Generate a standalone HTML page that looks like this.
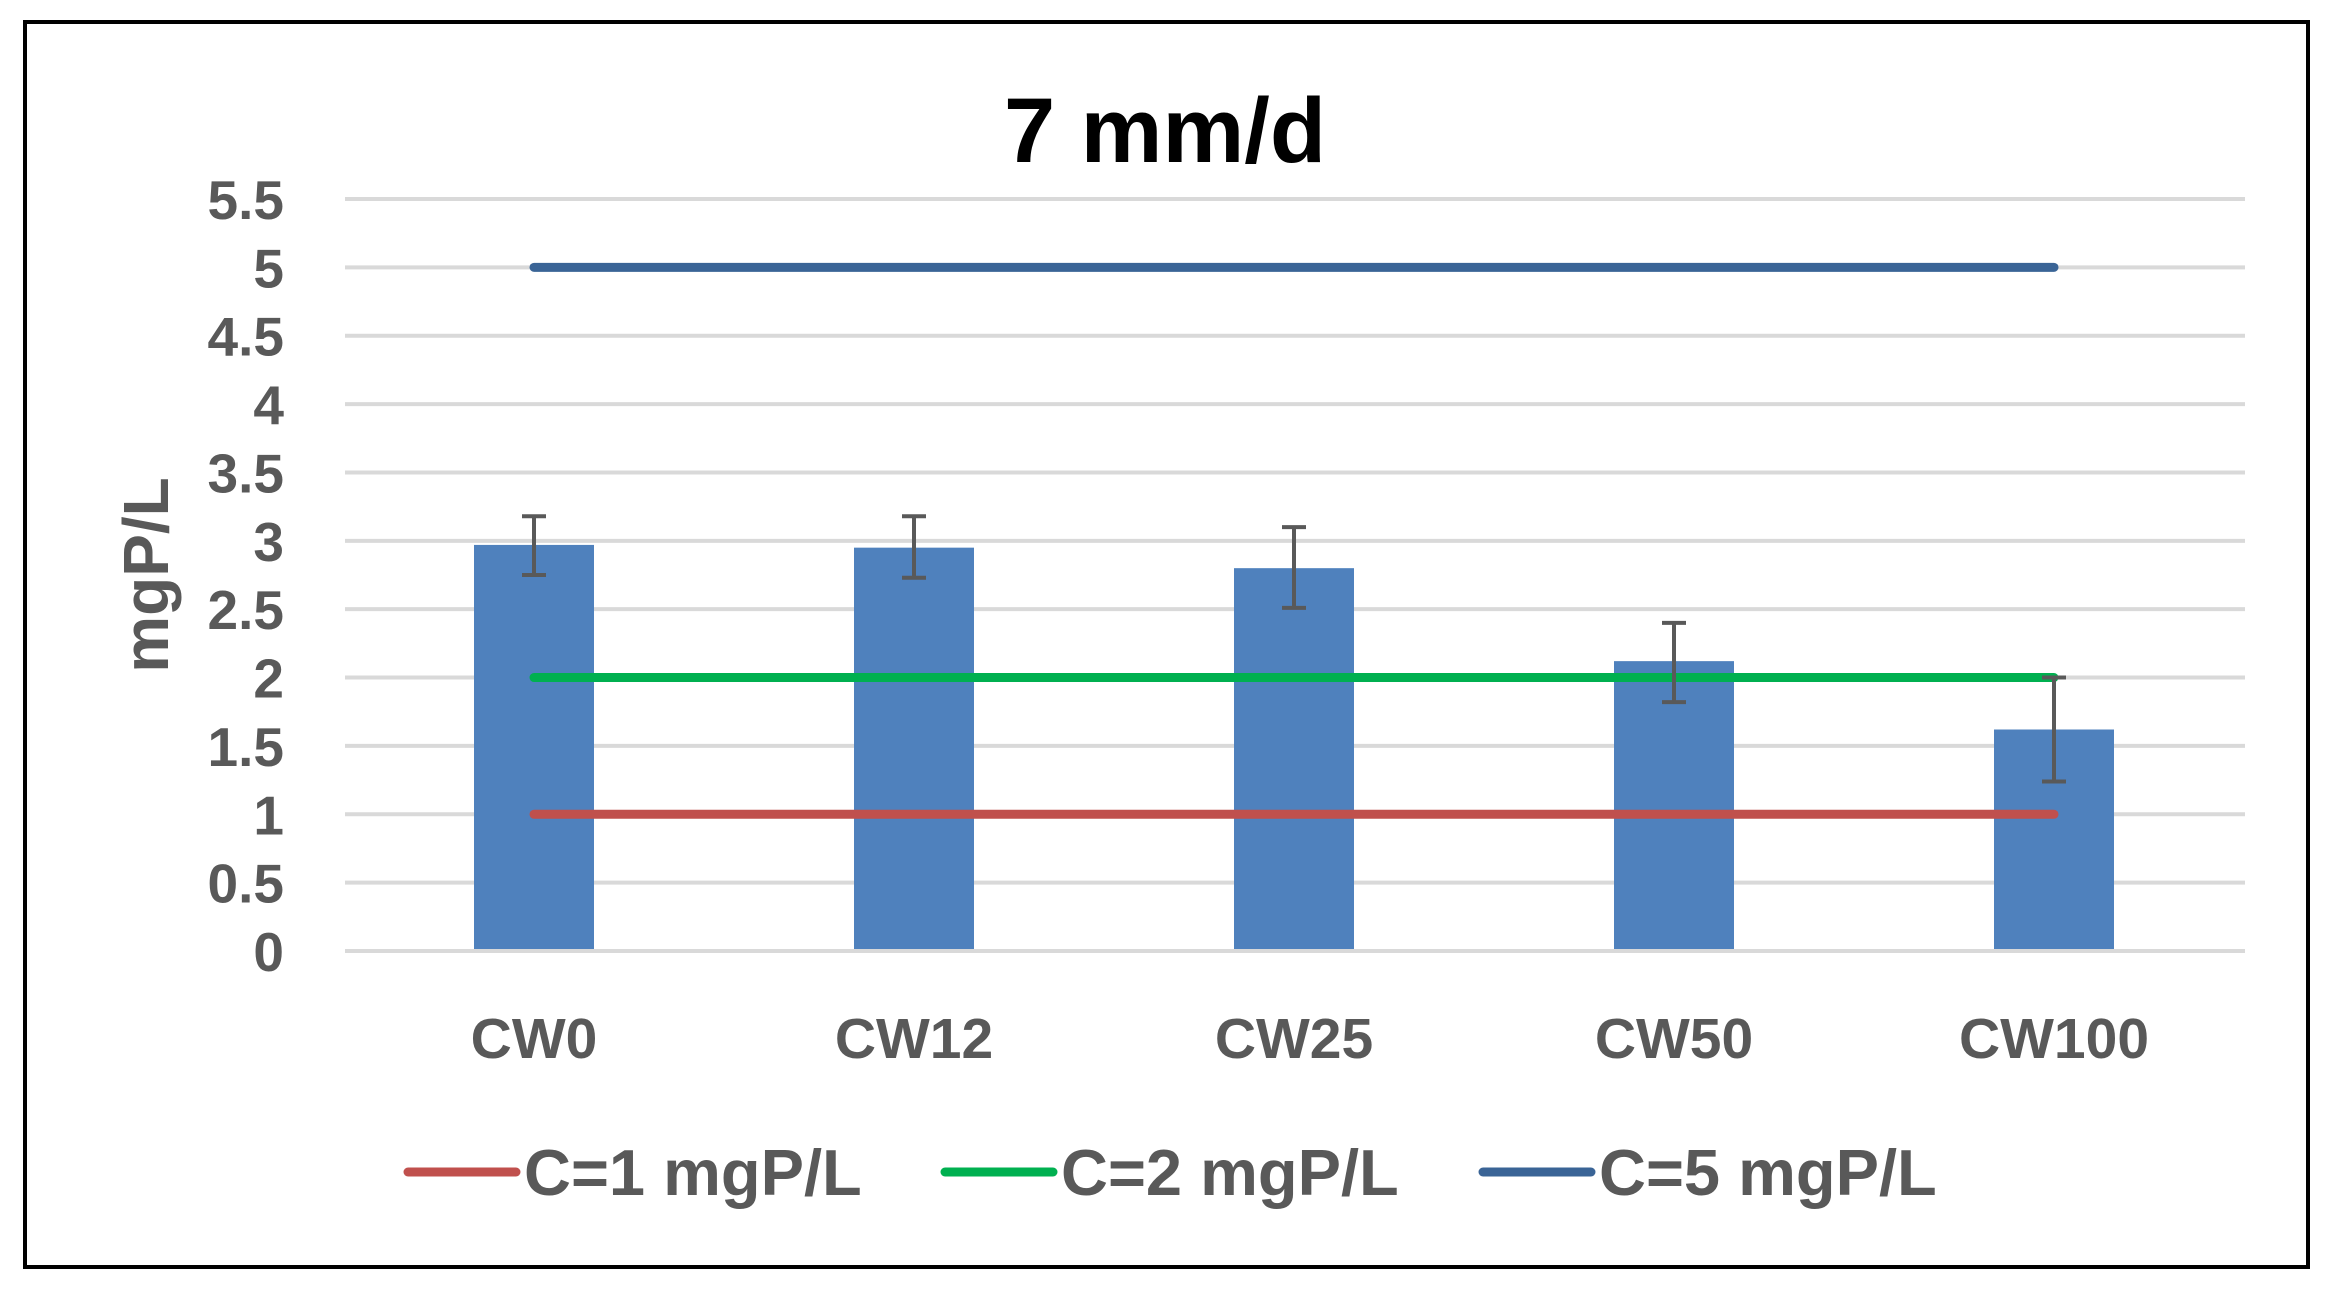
<!DOCTYPE html>
<html><head><meta charset="utf-8"><style>
html,body{margin:0;padding:0;background:#fff;width:2330px;height:1293px;overflow:hidden}
svg text{font-family:"Liberation Sans",sans-serif;font-weight:bold}
</style></head><body>
<svg id="chart" width="2330" height="1293" xmlns="http://www.w3.org/2000/svg">
<rect x="25" y="22" width="2283" height="1245" fill="#fff" stroke="#000" stroke-width="4"/>
<text x="1165" y="162" font-size="92" text-anchor="middle" fill="#000">7 mm/d</text>
<text transform="translate(168,575) rotate(-90)" font-size="64" text-anchor="middle" fill="#595959">mgP/L</text>
<g id="grid"></g><g id="bars"></g><g id="lines"></g><g id="errs"></g><g id="xlabels"></g><g id="legend"></g>
</svg>
<script>
const categories=["CW0","CW12","CW25","CW50","CW100"];
const barValues=[2.97,2.95,2.80,2.12,1.62];
const errLow=[2.75,2.73,2.51,1.82,1.24];
const errHigh=[3.18,3.18,3.10,2.40,2.00];
const yTicks=[0,0.5,1,1.5,2,2.5,3,3.5,4,4.5,5,5.5];
const refNames=["C=1 mgP/L","C=2 mgP/L","C=5 mgP/L"];
const refValues=[1,2,5];
const refColors=["#C0504D","#00B050","#3A6496"];
const NS="http://www.w3.org/2000/svg";
const y0=951,yTop=199,yMax=5.5,xL=345,xR=2245;
const y=v=>y0-(y0-yTop)*v/yMax;
const band=(xR-xL)/categories.length;
const x=i=>xL+band*(i+0.5)-1;
function mk(p,tag,a){const e=document.createElementNS(NS,tag);for(const k in a)e.setAttribute(k,a[k]);document.getElementById(p).appendChild(e);return e;}
yTicks.forEach((t,i)=>{
 const l=mk('grid','line',{x1:xL,x2:xR,y1:y(t),y2:y(t),stroke:'#D9D9D9','stroke-width':4});
 
 
 const tx=mk('grid','text',{x:284,y:y(t)+20,'font-size':55,'text-anchor':'end',fill:'#595959'});
 tx.textContent=String(t);
 
 
});
const bw=120;
categories.forEach((c,i)=>{
 const r=mk('bars','rect',{x:x(i)-bw/2,y:y(barValues[i]),width:bw,height:y0-2-y(barValues[i]),fill:'#4F81BD'});
 
 
 const g=mk('errs','path',{d:`M${x(i)} ${y(errLow[i])}V${y(errHigh[i])}M${x(i)-12} ${y(errLow[i])}h24M${x(i)-12} ${y(errHigh[i])}h24`,stroke:'#595959','stroke-width':4,fill:'none'});
 
 
 const t=mk('xlabels','text',{x:x(i),y:1058,'font-size':57,'text-anchor':'middle',fill:'#595959'});
 t.textContent=c;
 
 
});
refValues.forEach((v,k)=>{
 const l=mk('lines','line',{x1:x(0),x2:x(categories.length-1),y1:y(v),y2:y(v),stroke:refColors[k],'stroke-width':9,'stroke-linecap':'round'});
 
 
});
const legX=[408,945,1483];
refNames.forEach((n,k)=>{
 const l=mk('legend','line',{x1:legX[k],x2:legX[k]+108,y1:1172,y2:1172,stroke:refColors[k],'stroke-width':9,'stroke-linecap':'round'});
 
 
 const t=mk('legend','text',{x:legX[k]+116,y:1195,'font-size':65,fill:'#595959'});
 t.textContent=n;
 
 
});
</script>
</body></html>
